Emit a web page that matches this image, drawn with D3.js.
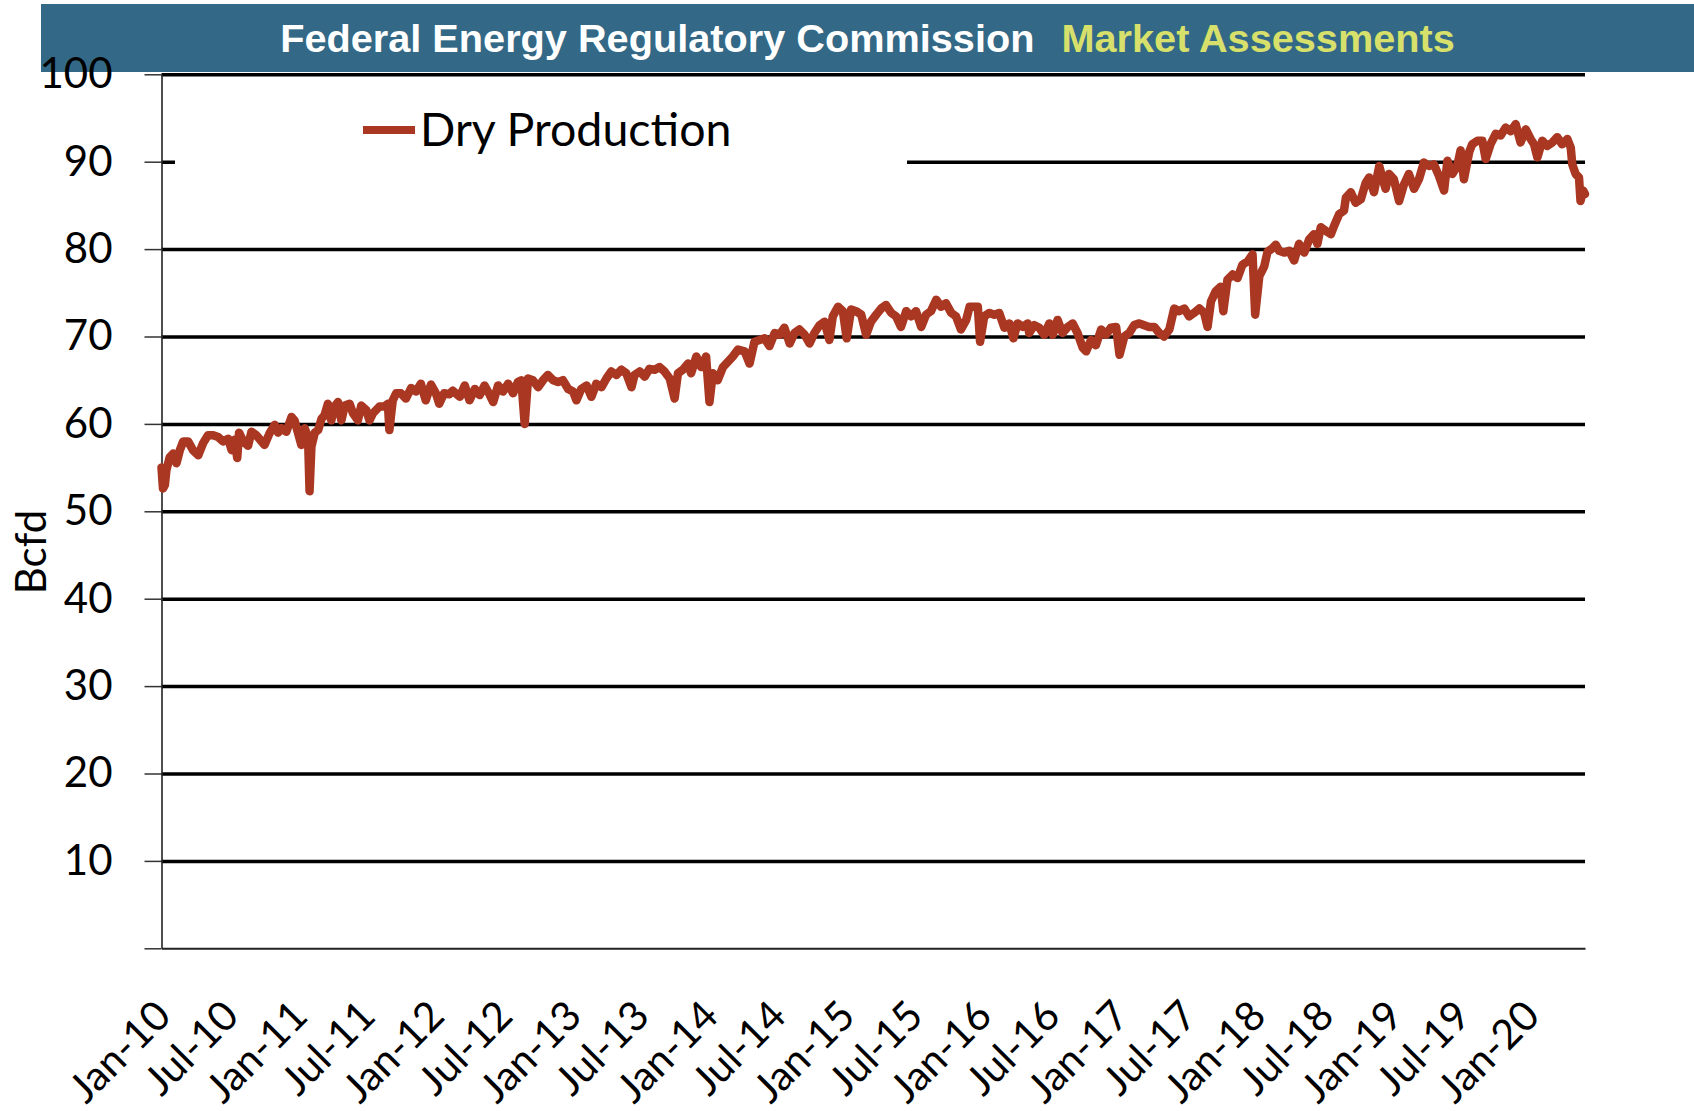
<!DOCTYPE html>
<html>
<head>
<meta charset="utf-8">
<script src="https://cdn.jsdelivr.net/npm/d3@7"></script>
<style>
  body { margin: 0; background: #fff; }
  svg { display: block; }
</style>
</head>
<body>
<svg id="chart"></svg>
<script>
// Dry gas production, Bcfd
const dates = [
  "2010-01-01","2010-01-05","2010-01-10","2010-01-14","2010-01-23","2010-02-01","2010-02-10","2010-02-19","2010-02-28","2010-03-13",
  "2010-03-26","2010-04-09","2010-04-22","2010-05-05","2010-05-19","2010-06-01","2010-06-14","2010-06-28","2010-07-07","2010-07-16",
  "2010-07-22","2010-07-27","2010-08-07","2010-08-20","2010-08-29","2010-09-11","2010-09-25","2010-10-03","2010-10-17","2010-10-30",
  "2010-11-08","2010-11-17","2010-11-30","2010-12-14","2010-12-22","2010-12-31","2011-01-09","2011-01-18","2011-01-27","2011-01-31",
  "2011-02-05","2011-02-14","2011-02-23","2011-03-04","2011-03-12","2011-03-21","2011-03-30","2011-04-08","2011-04-17","2011-04-26",
  "2011-05-05","2011-05-18","2011-05-27","2011-06-09","2011-06-18","2011-07-01","2011-07-10","2011-07-19","2011-08-06","2011-08-19",
  "2011-08-28","2011-09-01","2011-09-10","2011-09-19","2011-10-02","2011-10-15","2011-10-29","2011-11-11","2011-11-24","2011-12-07",
  "2011-12-21","2012-01-03","2012-01-12","2012-01-25","2012-02-08","2012-02-17","2012-03-07","2012-03-20","2012-04-02","2012-04-16",
  "2012-04-29","2012-05-12","2012-05-26","2012-06-04","2012-06-17","2012-06-30","2012-07-14","2012-07-27","2012-08-09","2012-08-18",
  "2012-08-27","2012-09-05","2012-09-18","2012-10-02","2012-10-15","2012-10-28","2012-11-11","2012-11-24","2012-12-07","2012-12-21",
  "2013-01-03","2013-01-12","2013-01-25","2013-02-08","2013-02-21","2013-03-06","2013-03-20","2013-04-02","2013-04-15","2013-04-29",
  "2013-05-12","2013-05-25","2013-06-08","2013-06-16","2013-06-30","2013-07-13","2013-07-26","2013-08-09","2013-08-22","2013-09-04",
  "2013-09-18","2013-10-01","2013-10-10","2013-10-23","2013-11-06","2013-11-14","2013-11-28","2013-12-11","2013-12-24","2014-01-02",
  "2014-01-11","2014-01-24","2014-02-07","2014-02-20","2014-03-05","2014-03-19","2014-04-06","2014-04-19","2014-05-02","2014-05-16",
  "2014-05-29","2014-06-11","2014-06-25","2014-07-08","2014-07-21","2014-08-04","2014-08-17","2014-08-30","2014-09-13","2014-09-26",
  "2014-10-09","2014-10-23","2014-11-05","2014-11-18","2014-11-27","2014-12-11","2014-12-24","2015-01-03","2015-01-15","2015-01-28",
  "2015-02-11","2015-02-24","2015-03-09","2015-03-23","2015-04-05","2015-04-18","2015-05-02","2015-05-15","2015-05-28","2015-06-11",
  "2015-06-24","2015-07-07","2015-07-21","2015-08-03","2015-08-16","2015-08-30","2015-09-12","2015-09-25","2015-10-09","2015-10-22",
  "2015-11-04","2015-11-18","2015-11-27","2015-12-10","2015-12-19","2015-12-25","2016-01-05","2016-01-19","2016-02-01","2016-02-14",
  "2016-02-28","2016-03-12","2016-03-23","2016-04-03","2016-04-17","2016-04-30","2016-05-04","2016-05-18","2016-05-31","2016-06-13",
  "2016-06-27","2016-07-06","2016-07-19","2016-08-01","2016-08-15","2016-08-28","2016-09-10","2016-09-24","2016-10-03","2016-10-16",
  "2016-10-29","2016-11-12","2016-11-25","2016-12-08","2016-12-22","2016-12-31","2017-01-13","2017-01-26","2017-02-08","2017-02-22",
  "2017-03-07","2017-03-20","2017-04-03","2017-04-16","2017-04-29","2017-05-13","2017-05-26","2017-06-08","2017-06-22","2017-07-05",
  "2017-07-18","2017-08-01","2017-08-14","2017-08-23","2017-09-01","2017-09-14","2017-09-27","2017-10-04","2017-10-15","2017-10-29",
  "2017-11-11","2017-11-24","2017-12-08","2017-12-21","2017-12-28","2018-01-08","2018-01-21","2018-01-30","2018-02-12","2018-02-21",
  "2018-03-02","2018-03-15","2018-03-29","2018-04-11","2018-04-24","2018-05-08","2018-05-21","2018-06-03","2018-06-12","2018-06-21",
  "2018-07-04","2018-07-18","2018-07-27","2018-08-09","2018-08-22","2018-08-27","2018-09-09","2018-09-22","2018-10-06","2018-10-19",
  "2018-10-28","2018-11-10","2018-11-24","2018-12-02","2018-12-11","2018-12-20","2019-01-02","2019-01-16","2019-01-29","2019-02-11",
  "2019-02-25","2019-03-10","2019-03-23","2019-04-06","2019-04-19","2019-05-02","2019-05-16","2019-05-25","2019-06-07","2019-06-20",
  "2019-06-29","2019-07-08","2019-07-22","2019-07-30","2019-08-13","2019-08-26","2019-09-04","2019-09-17","2019-10-01","2019-10-14",
  "2019-10-27","2019-11-10","2019-11-23","2019-12-06","2019-12-20","2020-01-02","2020-01-11","2020-01-20","2020-02-02","2020-02-15",
  "2020-02-29","2020-03-13","2020-03-26","2020-04-09","2020-04-18","2020-04-22","2020-05-01","2020-05-10","2020-05-14","2020-05-21",
  "2020-05-26"
];

const dryProduction = [
  55.0, 52.6, 53.0, 54.7, 56.2, 56.6, 55.5, 57.0, 58.0, 58.0,
  57.0, 56.4, 57.8, 58.7, 58.7, 58.5, 58.0, 58.3, 57.0, 58.2,
  56.1, 59.0, 58.0, 57.5, 59.1, 58.7, 58.0, 57.6, 59.0, 59.9,
  59.0, 59.5, 59.1, 60.8, 60.4, 59.0, 57.6, 59.5, 58.5, 52.3,
  57.4, 59.0, 59.3, 60.6, 61.0, 62.3, 60.4, 62.0, 62.5, 60.4,
  62.1, 62.3, 61.2, 60.4, 62.1, 61.6, 60.4, 61.2, 62.0, 62.0,
  62.3, 59.3, 62.7, 63.5, 63.5, 62.9, 64.1, 63.7, 64.6, 62.7,
  64.5, 63.5, 62.3, 63.5, 63.4, 63.8, 63.1, 64.4, 62.7, 64.0,
  63.3, 64.4, 63.3, 62.5, 64.4, 63.7, 64.6, 63.5, 64.8, 65.0,
  60.0, 65.2, 65.0, 64.2, 65.0, 65.6, 65.0, 64.8, 65.0, 64.0,
  63.7, 62.7, 64.0, 64.4, 63.1, 64.6, 64.2, 65.2, 66.0, 65.6,
  66.2, 65.8, 64.2, 65.6, 66.0, 65.4, 66.3, 66.2, 66.5, 66.0,
  65.2, 62.9, 65.8, 66.2, 66.9, 65.8, 67.7, 66.5, 67.7, 62.5,
  65.8, 65.0, 66.5, 67.1, 67.7, 68.5, 68.3, 66.9, 69.4, 69.6,
  69.8, 68.9, 70.4, 70.2, 71.0, 69.2, 70.4, 70.8, 70.2, 69.2,
  70.4, 71.3, 71.7, 69.6, 72.3, 73.4, 72.9, 69.8, 73.1, 72.9,
  72.5, 70.2, 71.7, 72.5, 73.2, 73.6, 72.7, 72.3, 71.1, 72.9,
  72.3, 72.9, 71.1, 72.5, 72.9, 74.2, 73.4, 73.8, 72.7, 72.3,
  70.8, 71.9, 73.4, 73.4, 73.4, 69.4, 72.3, 72.7, 72.5, 72.7,
  71.0, 71.5, 69.8, 71.5, 71.1, 71.5, 70.4, 71.3, 71.0, 70.2,
  71.5, 70.2, 71.9, 70.4, 71.1, 71.5, 70.4, 68.7, 68.3, 69.6,
  69.0, 70.8, 70.2, 71.0, 71.1, 67.9, 70.0, 70.4, 71.3, 71.5,
  71.3, 71.1, 71.1, 70.4, 70.0, 70.8, 73.2, 72.9, 73.2, 72.3,
  72.7, 73.2, 72.7, 71.1, 74.0, 75.2, 75.7, 72.9, 76.5, 77.1,
  76.7, 78.2, 78.6, 79.4, 72.5, 76.9, 78.0, 79.7, 80.1, 80.5,
  79.8, 79.6, 79.8, 78.7, 80.6, 79.6, 81.1, 81.7, 80.6, 82.5,
  82.1, 81.7, 82.7, 84.0, 84.4, 85.9, 86.5, 85.3, 85.7, 87.6,
  88.2, 86.5, 89.5, 88.2, 86.9, 88.6, 88.0, 85.5, 87.4, 88.6,
  86.9, 88.0, 89.9, 89.5, 89.7, 88.4, 86.7, 90.1, 88.6, 89.5,
  91.3, 88.0, 91.1, 92.0, 92.4, 92.4, 90.3, 92.0, 93.2, 93.0,
  93.9, 93.5, 94.3, 92.2, 93.7, 92.6, 92.0, 90.5, 92.4, 91.8,
  92.2, 92.8, 92.0, 92.6, 91.6, 89.7, 88.6, 88.2, 85.5, 86.7,
  86.3
];

const xTickLabels = [
  "Jan-10", "Jul-10", "Jan-11", "Jul-11", "Jan-12", "Jul-12", "Jan-13", "Jul-13",
  "Jan-14", "Jul-14", "Jan-15", "Jul-15", "Jan-16", "Jul-16", "Jan-17", "Jul-17",
  "Jan-18", "Jul-18", "Jan-19", "Jul-19", "Jan-20"
];
const yTicks = [10, 20, 30, 40, 50, 60, 70, 80, 90, 100];

const seriesName = "Dry Production";
const yTitle = "Bcfd";
const titleMain = "Federal Energy Regulatory Commission";
const titleAccent = "Market Assessments";

const width = 1694, height = 1111;
const plot = { left: 161.5, right: 1585, top: 74.3, bottom: 948.3 };
const lineColor = "#aa3722";
const axisFont = "Lato, 'Open Sans', sans-serif";

const parseDay = d3.timeParse("%Y-%m-%d");
const parseTick = d3.timeParse("%b-%y");
const data = dates.map((d, i) => ({ date: parseDay(d), value: dryProduction[i] }));
const xTickDates = xTickLabels.map(parseTick);

const svg = d3.select("#chart")
    .attr("width", width)
    .attr("height", height)
    .style("background", "#fff");

const x = d3.scaleTime()
    .domain(d3.extent(data, d => d.date))
    .range([plot.left, plot.right]);

const y = d3.scaleLinear()
    .domain([0, 100])
    .range([plot.bottom, plot.top]);

// header band
svg.append("rect")
    .attr("x", 41)
    .attr("y", 4)
    .attr("width", width - 41)
    .attr("height", 68)
    .attr("fill", "#336886");

const title = svg.append("text")
    .attr("x", (41 + width) / 2)
    .attr("y", 52)
    .attr("text-anchor", "middle")
    .style("font-family", "'Liberation Sans', Arial, sans-serif")
    .style("font-weight", "bold")
    .style("font-size", "39.7px");
title.append("tspan").attr("fill", "#fff").text(titleMain);
title.append("tspan").attr("dx", 27).attr("fill", "#d6e06b").text(titleAccent);

// horizontal gridlines
svg.append("g")
    .attr("transform", `translate(${plot.left},0)`)
    .call(d3.axisLeft(y).tickValues(yTicks).tickSize(-(plot.right - plot.left)).tickFormat(""))
    .call(g => g.select(".domain").remove())
    .call(g => g.selectAll(".tick line")
        .attr("stroke", "#000")
        .attr("stroke-width", 3.5));

// legend box hides the gridline behind it
svg.append("rect")
    .attr("x", 175)
    .attr("y", 88)
    .attr("width", 732)
    .attr("height", 90)
    .attr("fill", "#fff");

// x axis
const xAxis = svg.append("g")
    .attr("transform", `translate(0,${plot.bottom})`)
    .call(d3.axisBottom(x).tickValues(xTickDates).tickSize(0).tickSizeOuter(0)
        .tickFormat((d, i) => xTickLabels[i]));
xAxis.select(".domain").attr("stroke", "#222").attr("stroke-width", 2);
xAxis.selectAll(".tick text")
    .attr("x", 0)
    .attr("y", 0)
    .attr("dy", 0)
    .attr("transform", "translate(11,70) rotate(-45)")
    .attr("text-anchor", "end")
    .attr("fill", "#000")
    .style("font-family", axisFont)
    .style("font-size", "41px");

// y axis with ticks and labels
const yAxis = svg.append("g")
    .attr("transform", `translate(${plot.left},0)`)
    .call(d3.axisLeft(y).tickValues([0].concat(yTicks)).tickSize(17).tickSizeOuter(0).tickPadding(32)
        .tickFormat(d => d === 0 ? "" : d));
yAxis.select(".domain").attr("stroke", "#222").attr("stroke-width", 1.6);
yAxis.selectAll(".tick line").attr("stroke", "#333").attr("stroke-width", 1.5);
yAxis.selectAll(".tick text")
    .attr("fill", "#000")
    .style("font-family", axisFont)
    .style("font-size", "42px");

svg.append("text")
    .attr("transform", "translate(31,552) rotate(-90)")
    .attr("text-anchor", "middle")
    .attr("dy", "0.35em")
    .style("font-family", axisFont)
    .style("font-size", "42px")
    .text(yTitle);

// series line
const line = d3.line()
    .x(d => x(d.date))
    .y(d => y(d.value));

svg.append("path")
    .datum(data)
    .attr("d", line)
    .attr("fill", "none")
    .attr("stroke", lineColor)
    .attr("stroke-width", 8.5)
    .attr("stroke-linejoin", "round")
    .attr("stroke-linecap", "round");

// legend
svg.append("line")
    .attr("x1", 363)
    .attr("x2", 415)
    .attr("y1", 130)
    .attr("y2", 130)
    .attr("stroke", lineColor)
    .attr("stroke-width", 8);

svg.append("text")
    .attr("x", 420)
    .attr("y", 146)
    .style("font-family", axisFont)
    .style("font-size", "46.5px")
    .text(seriesName);
</script>
</body>
</html>
